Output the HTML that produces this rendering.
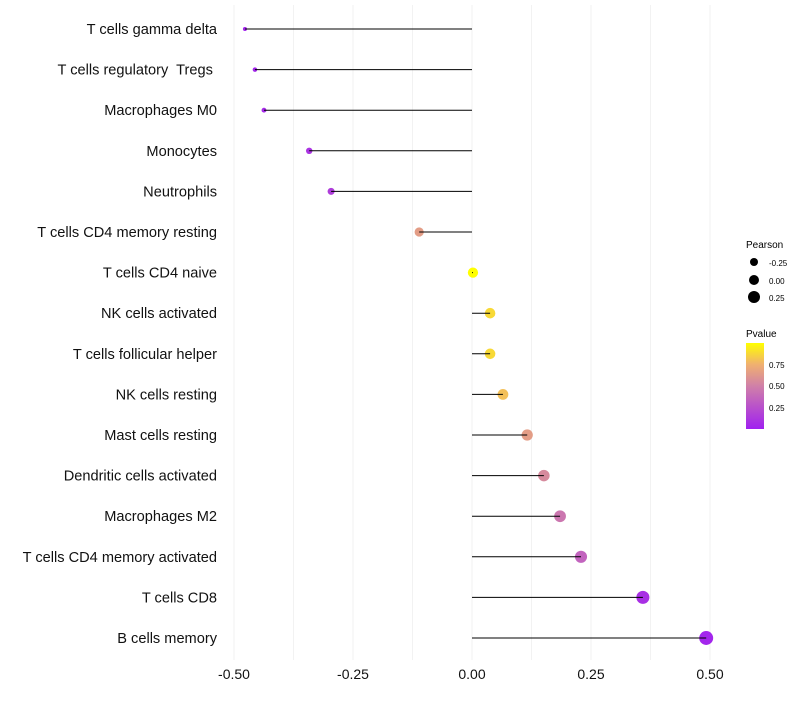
<!DOCTYPE html>
<html><head><meta charset="utf-8"><style>
body{margin:0;background:#fff;}
svg text{font-family:"Liberation Sans",sans-serif;white-space:pre;}
</style></head><body>
<svg id="chart" width="800" height="700" xmlns="http://www.w3.org/2000/svg">
<defs><linearGradient id="pg" x1="0" y1="1" x2="0" y2="0">
<stop offset="0" stop-color="#a020f0"/><stop offset="0.5" stop-color="#d080a8"/><stop offset="0.75" stop-color="#f0b070"/><stop offset="1" stop-color="#ffff00"/></linearGradient></defs>
<g id="grid"></g>
<g id="marks"></g>
<g id="ylab"></g>
<g id="xlab"></g>
<g>
<text x="746" y="248" font-size="10">Pearson</text>
<circle cx="754" cy="262" r="4" fill="#000"/>
<text x="769" y="266" font-size="8">-0.25</text>
<circle cx="754" cy="280" r="5" fill="#000"/>
<text x="769" y="284" font-size="8">0.00</text>
<circle cx="754" cy="297" r="6" fill="#000"/>
<text x="769" y="301" font-size="8">0.25</text>
</g>
<g>
<text x="746" y="337" font-size="10">Pvalue</text>
<rect x="746" y="343" width="18" height="86" fill="url(#pg)"/>
<text x="769" y="368" font-size="8">0.75</text>
<text x="769" y="389" font-size="8">0.50</text>
<text x="769" y="411" font-size="8">0.25</text>
</g>
</svg>
<script>
const categories=["T cells gamma delta","T cells regulatory  Tregs ","Macrophages M0","Monocytes","Neutrophils","T cells CD4 memory resting","T cells CD4 naive","NK cells activated","T cells follicular helper","NK cells resting","Mast cells resting","Dendritic cells activated","Macrophages M2","T cells CD4 memory activated","T cells CD8","B cells memory"];
const pearson=[-0.477,-0.456,-0.437,-0.342,-0.296,-0.111,0.002,0.038,0.038,0.065,0.116,0.151,0.185,0.229,0.359,0.492];
const pvalue=[0.02,0.03,0.05,0.1,0.15,0.65,1.0,0.88,0.88,0.8,0.65,0.55,0.45,0.35,0.08,0.03];
const xTicks=[-0.5,-0.25,0,0.25,0.5];
const xTickLabels=["-0.50","-0.25","0.00","0.25","0.50"];
const NS="http://www.w3.org/2000/svg";
const xs=v=>472+v*476;
const ys=i=>29+i*40.6;
const rs=v=>Math.sqrt(4+46*Math.max(0,v+0.48));
function col(p){const st=[[0,[160,32,240]],[0.5,[208,128,168]],[0.75,[240,176,112]],[1,[255,255,0]]];
for(let k=1;k<st.length;k++){if(p<=st[k][0]){const a=st[k-1],b=st[k],t=(p-a[0])/(b[0]-a[0]);return "rgb("+a[1].map((c,j)=>Math.round(c+(b[1][j]-c)*t)).join(",")+")";}}return "rgb(255,255,0)";}
function mk(t,a,p){const e=document.createElementNS(NS,t);for(const k in a)e.setAttribute(k,a[k]);p.appendChild(e);return e;}
const grid=document.getElementById('grid'),marks=document.getElementById('marks'),yl=document.getElementById('ylab'),xl=document.getElementById('xlab');
for(let v=-0.5;v<=0.5001;v+=0.125){const l=mk('line',{x1:xs(v),x2:xs(v),y1:5,y2:660,stroke:'#f2f2f2','stroke-width':1},grid);

}
xTicks.forEach((v,i)=>{const t=mk('text',{x:xs(v),y:679,'font-size':14,'text-anchor':'middle',fill:'#111'},xl);t.textContent=xTickLabels[i];

});
categories.forEach((c,i)=>{const y=ys(i);
const t=mk('text',{x:217,y:y+5,'font-size':14.6,'text-anchor':'end',fill:'#111'},yl);t.textContent=c;


const ci=mk('circle',{cx:xs(pearson[i]),cy:y,r:rs(pearson[i]),fill:col(pvalue[i])},marks);


const l=mk('line',{x1:xs(0),x2:xs(pearson[i]),y1:y,y2:y,stroke:'#000','stroke-width':1},marks);

});
</script>
</body></html>
